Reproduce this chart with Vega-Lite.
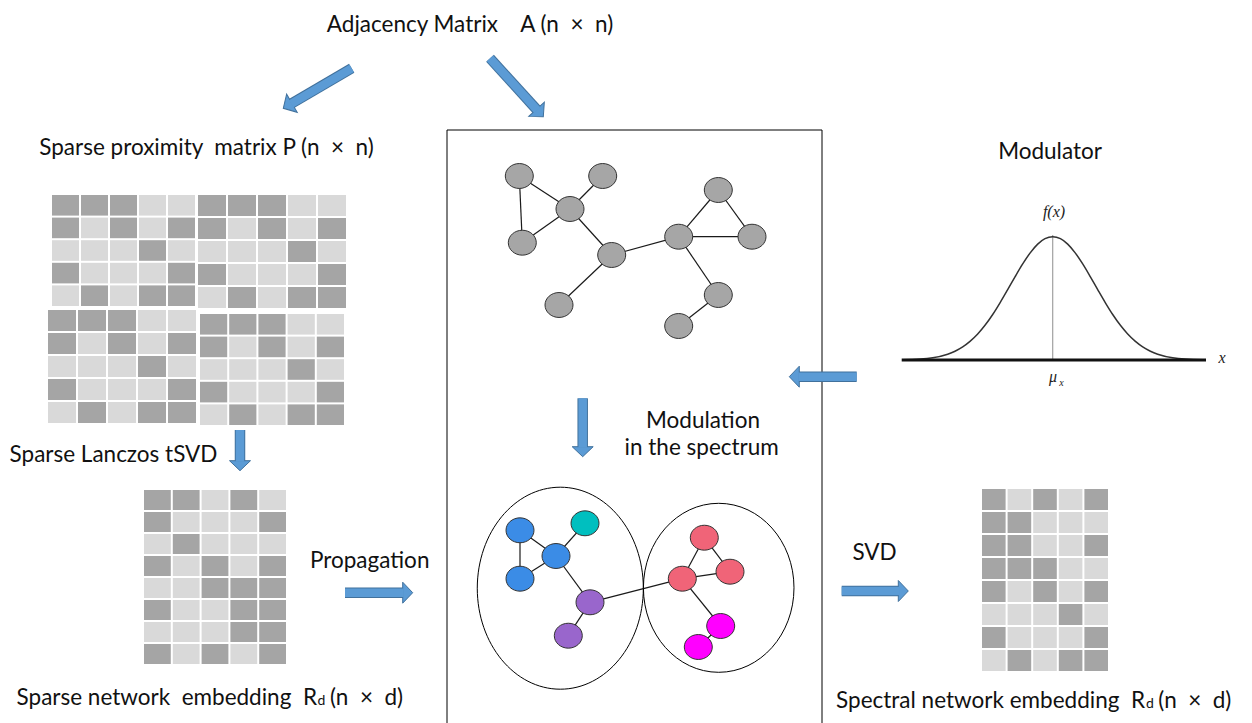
{
"$schema": "https://vega.github.io/schema/vega-lite/v6.json",
"width": 1252, "height": 723, "padding": 0,
"autosize": {"type": "none"},
"background": "white",
"config": {"view": {"stroke": null}},
"resolve": {"scale": {"fill": "independent", "color": "independent"}},
"datasets": {
"blocks": [
{"b":"P1","bx":51,"by":194,"cw":29,"ch":22.6},
{"b":"P2","bx":197,"by":194,"cw":30,"ch":23},
{"b":"P3","bx":47,"by":309,"cw":30,"ch":23},
{"b":"P4","bx":199,"by":313,"cw":29.2,"ch":22.6},
{"b":"R","bx":143,"by":489,"cw":28.8,"ch":22},
{"b":"S","bx":981,"by":488,"cw":25.6,"ch":23}
],
"cells": [
{"b":"P1","r":0,"v":[1,1,1,0,0],"c":[0,1,2,3,4]},
{"b":"P1","r":1,"v":[1,0,1,0,1],"c":[0,1,2,3,4]},
{"b":"P1","r":2,"v":[0,0,0,1,0],"c":[0,1,2,3,4]},
{"b":"P1","r":3,"v":[1,0,0,0,1],"c":[0,1,2,3,4]},
{"b":"P1","r":4,"v":[0,1,0,1,1],"c":[0,1,2,3,4]},
{"b":"P2","r":0,"v":[1,1,1,0,0],"c":[0,1,2,3,4]},
{"b":"P2","r":1,"v":[1,0,1,0,1],"c":[0,1,2,3,4]},
{"b":"P2","r":2,"v":[0,0,0,1,0],"c":[0,1,2,3,4]},
{"b":"P2","r":3,"v":[1,0,0,0,1],"c":[0,1,2,3,4]},
{"b":"P2","r":4,"v":[0,1,0,1,1],"c":[0,1,2,3,4]},
{"b":"P3","r":0,"v":[1,1,1,0,0],"c":[0,1,2,3,4]},
{"b":"P3","r":1,"v":[1,0,1,0,1],"c":[0,1,2,3,4]},
{"b":"P3","r":2,"v":[0,0,0,1,0],"c":[0,1,2,3,4]},
{"b":"P3","r":3,"v":[1,0,0,0,1],"c":[0,1,2,3,4]},
{"b":"P3","r":4,"v":[0,1,0,1,1],"c":[0,1,2,3,4]},
{"b":"P4","r":0,"v":[1,1,1,0,0],"c":[0,1,2,3,4]},
{"b":"P4","r":1,"v":[1,0,1,0,1],"c":[0,1,2,3,4]},
{"b":"P4","r":2,"v":[0,0,0,1,0],"c":[0,1,2,3,4]},
{"b":"P4","r":3,"v":[1,0,0,0,1],"c":[0,1,2,3,4]},
{"b":"P4","r":4,"v":[0,1,0,1,1],"c":[0,1,2,3,4]},
{"b":"R","r":0,"v":[1,1,0,1,0],"c":[0,1,2,3,4]},
{"b":"R","r":1,"v":[1,0,0,0,1],"c":[0,1,2,3,4]},
{"b":"R","r":2,"v":[0,1,0,0,0],"c":[0,1,2,3,4]},
{"b":"R","r":3,"v":[1,0,1,0,1],"c":[0,1,2,3,4]},
{"b":"R","r":4,"v":[0,0,1,1,1],"c":[0,1,2,3,4]},
{"b":"R","r":5,"v":[1,0,0,1,1],"c":[0,1,2,3,4]},
{"b":"R","r":6,"v":[0,0,0,1,1],"c":[0,1,2,3,4]},
{"b":"R","r":7,"v":[1,0,1,0,1],"c":[0,1,2,3,4]},
{"b":"S","r":0,"v":[1,0,1,0,1],"c":[0,1,2,3,4]},
{"b":"S","r":1,"v":[1,1,0,0,0],"c":[0,1,2,3,4]},
{"b":"S","r":2,"v":[1,1,0,0,1],"c":[0,1,2,3,4]},
{"b":"S","r":3,"v":[1,1,1,0,0],"c":[0,1,2,3,4]},
{"b":"S","r":4,"v":[1,0,1,0,1],"c":[0,1,2,3,4]},
{"b":"S","r":5,"v":[0,0,0,1,0],"c":[0,1,2,3,4]},
{"b":"S","r":6,"v":[1,0,0,0,1],"c":[0,1,2,3,4]},
{"b":"S","r":7,"v":[0,1,0,1,1],"c":[0,1,2,3,4]}
],
"nodes": [
{"id":"A","x":519.3,"y":176,"cls":"gray"},
{"id":"B","x":602.7,"y":176,"cls":"gray"},
{"id":"C","x":570,"y":209,"cls":"gray"},
{"id":"D","x":522.3,"y":242.7,"cls":"gray"},
{"id":"E","x":611.7,"y":255,"cls":"gray"},
{"id":"F","x":559,"y":305,"cls":"gray"},
{"id":"G","x":678.7,"y":236.7,"cls":"gray"},
{"id":"H","x":718.3,"y":190,"cls":"gray"},
{"id":"I","x":752,"y":236.7,"cls":"gray"},
{"id":"J","x":718.3,"y":295,"cls":"gray"},
{"id":"K","x":678.7,"y":326,"cls":"gray"},
{"id":"b1","x":520,"y":530.3,"cls":"blue"},
{"id":"t1","x":585,"y":523.3,"cls":"teal"},
{"id":"b2","x":556,"y":556,"cls":"blue"},
{"id":"b3","x":520,"y":578.7,"cls":"blue"},
{"id":"p1","x":590,"y":602.3,"cls":"purple"},
{"id":"p2","x":568.3,"y":635.7,"cls":"purple"},
{"id":"r1","x":704.3,"y":537.7,"cls":"red"},
{"id":"r2","x":682.3,"y":578.7,"cls":"red"},
{"id":"r3","x":730,"y":571.7,"cls":"red"},
{"id":"m1","x":720.7,"y":626,"cls":"magenta"},
{"id":"m2","x":698.3,"y":647,"cls":"magenta"}
],
"edges": [
{"s":"A","t":"C"},{"s":"A","t":"D"},{"s":"B","t":"C"},{"s":"C","t":"D"},{"s":"C","t":"E"},{"s":"E","t":"F"},
{"s":"E","t":"G"},{"s":"G","t":"H"},{"s":"H","t":"I"},{"s":"G","t":"I"},{"s":"G","t":"J"},{"s":"J","t":"K"},
{"s":"b1","t":"b3"},{"s":"b1","t":"b2"},{"s":"b3","t":"b2"},{"s":"t1","t":"b2"},{"s":"b2","t":"p1"},{"s":"p1","t":"p2"},
{"s":"p1","t":"r2"},{"s":"r2","t":"r1"},{"s":"r1","t":"r3"},{"s":"r2","t":"r3"},{"s":"r2","t":"m1"},{"s":"m1","t":"m2"}
],
"clusters": [{"k":"L","x":560.3,"y":588.2},{"k":"R","x":718.7,"y":587.8}],
"box": [
{"x":447,"y":130,"x2":447,"y2":723},
{"x":822,"y":130,"x2":822,"y2":723},
{"x":447,"y":130,"x2":822,"y2":130}
],
"arrows": [
{"id":"a1","x":351.7,"y":68.3,"ex":291.1,"ey":103.8,"tx":283.3,"ty":108.3},
{"id":"a2","x":490,"y":58.3,"ex":537.2,"ey":110.1,"tx":543.3,"ty":116.7},
{"id":"a3","x":240,"y":430,"ex":240,"ey":461.7,"tx":240,"ty":470.7},
{"id":"a4","x":345,"y":592.7,"ex":403.7,"ey":592.7,"tx":412.7,"ty":592.7},
{"id":"a5","x":856.7,"y":376.7,"ex":798.3,"ey":376.7,"tx":789.3,"ty":376.7},
{"id":"a6","x":582.7,"y":398.3,"ex":582.7,"ey":447.7,"tx":582.7,"ty":456.7},
{"id":"a7","x":841.7,"y":591,"ex":899.3,"ey":591,"tx":908.3,"ty":591}
],
"curve": [
{"x":902.7,"y":359.8},{"x":932.7,"y":357.7},{"x":947.7,"y":354.2},{"x":955,"y":351.2},{"x":962.7,"y":346.9},
{"x":970,"y":341.4},{"x":977.7,"y":334},{"x":985,"y":325.3},{"x":992.7,"y":314.5},{"x":1000,"y":302.8},
{"x":1007.7,"y":289.6},{"x":1015,"y":276.8},{"x":1022.7,"y":263.9},{"x":1030,"y":253.1},{"x":1037.7,"y":244.1},
{"x":1045,"y":238.7},{"x":1052.7,"y":236.7},{"x":1060.4,"y":238.7},{"x":1067.7,"y":244.1},{"x":1075.4,"y":253.1},
{"x":1082.7,"y":263.9},{"x":1090.4,"y":276.8},{"x":1097.7,"y":289.6},{"x":1105.4,"y":302.8},{"x":1112.7,"y":314.5},
{"x":1120.4,"y":325.3},{"x":1127.7,"y":334},{"x":1135.4,"y":341.4},{"x":1142.7,"y":346.9},{"x":1150.4,"y":351.2},
{"x":1157.7,"y":354.2},{"x":1172.7,"y":357.7},{"x":1202.7,"y":359.8}
],
"guides": [
{"k":"base","x":901.7,"y":360,"x2":1206,"y2":360},
{"k":"mu","x":1052.7,"y":235,"x2":1052.7,"y2":360}
],
"ctext": [
{"t":"Adjacency Matrix \u00a0 \u00a0A (n\u00a0 × \u00a0n)","x":470,"y":32},
{"t":"Sparse proximity\u00a0 matrix P (n\u00a0 × \u00a0n)","x":206.5,"y":155},
{"t":"Modulator","x":1050,"y":159},
{"t":"Sparse Lanczos tSVD","x":113.5,"y":461.7},
{"t":"Propagation","x":369.7,"y":568.3},
{"t":"Modulation","x":703,"y":428},
{"t":"in the spectrum","x":701.7,"y":455},
{"t":"SVD","x":874.5,"y":560}
],
"rtext": [
{"t":"Sparse network\u00a0 embedding\u00a0 R","x":317,"y":705},
{"t":"Spectral network embedding\u00a0 R","x":1145,"y":708.3}
],
"ltext": [
{"t":"(n\u00a0 × \u00a0d)","x":330,"y":705},
{"t":"(n\u00a0 × \u00a0d)","x":1158.3,"y":708.3}
],
"subd": [
{"t":"d","x":317.5,"y":705},
{"t":"d","x":1146,"y":708.3}
],
"serif": [
{"t":"f(x)","x":1054,"y":216.7},
{"t":"x","x":1222,"y":362.7},
{"t":"μ","x":1053,"y":382}
],
"serifsub": [
{"t":"x","x":1061.5,"y":385.5}
]
},
"layer": [
{
"data": {"name":"cells"},
"transform": [
{"flatten":["v","c"]},
{"lookup":"b","from":{"data":{"name":"blocks"},"key":"b","fields":["bx","by","cw","ch"]}},
{"calculate":"datum.bx + datum.c*datum.cw + 1","as":"x"},
{"calculate":"datum.bx + (datum.c+1)*datum.cw - 1","as":"x2"},
{"calculate":"datum.by + datum.r*datum.ch + 1","as":"y"},
{"calculate":"datum.by + (datum.r+1)*datum.ch - 1","as":"y2"}
],
"mark": {"type":"rect"},
"encoding": {
"x":{"field":"x","type":"quantitative","scale":{"domain":[0,1252],"nice":false,"zero":false},"axis":null},
"x2":{"field":"x2"},
"y":{"field":"y","type":"quantitative","scale":{"domain":[0,723],"reverse":true,"nice":false,"zero":false},"axis":null},
"y2":{"field":"y2"},
"color":{"field":"v","type":"nominal","scale":{"domain":[0,1],"range":["#d9d9d9","#a5a5a5"]},"legend":null}
}
},
{
"data": {"name":"box"},
"mark": {"type":"rule","color":"#000","strokeWidth":1},
"encoding": {
"x":{"field":"x","type":"quantitative","scale":{"domain":[0,1252],"nice":false,"zero":false},"axis":null},
"x2":{"field":"x2"},
"y":{"field":"y","type":"quantitative","scale":{"domain":[0,723],"reverse":true,"nice":false,"zero":false},"axis":null},
"y2":{"field":"y2"}
}
},
{
"data": {"name":"edges"},
"transform": [
{"lookup":"s","from":{"data":{"name":"nodes"},"key":"id","fields":["x","y"]},"as":["sx","sy"]},
{"lookup":"t","from":{"data":{"name":"nodes"},"key":"id","fields":["x","y"]},"as":["tx","ty"]}
],
"mark": {"type":"rule","color":"#1a1a1a","strokeWidth":1.2},
"encoding": {
"x":{"field":"sx","type":"quantitative","scale":{"domain":[0,1252],"nice":false,"zero":false},"axis":null},
"x2":{"field":"tx"},
"y":{"field":"sy","type":"quantitative","scale":{"domain":[0,723],"reverse":true,"nice":false,"zero":false},"axis":null},
"y2":{"field":"ty"}
}
},
{
"data": {"name":"clusters"},
"transform": [{"filter":"datum.k === 'L'"}],
"mark": {"type":"point","filled":false,"stroke":"#000","strokeWidth":1,"opacity":1,"size":40804,
"shape":"M0.822,0C0.822,0.5523 0.454,1 0,1C-0.454,1 -0.822,0.5523 -0.822,0C-0.822,-0.5523 -0.454,-1 0,-1C0.454,-1 0.822,-0.5523 0.822,0Z"},
"encoding": {
"x":{"field":"x","type":"quantitative","scale":{"domain":[0,1252],"nice":false,"zero":false},"axis":null},
"y":{"field":"y","type":"quantitative","scale":{"domain":[0,723],"reverse":true,"nice":false,"zero":false},"axis":null}
}
},
{
"data": {"name":"clusters"},
"transform": [{"filter":"datum.k === 'R'"}],
"mark": {"type":"point","filled":false,"stroke":"#000","strokeWidth":1,"opacity":1,"size":28561,
"shape":"M0.891,0C0.891,0.5523 0.4921,1 0,1C-0.4921,1 -0.891,0.5523 -0.891,0C-0.891,-0.5523 -0.4921,-1 0,-1C0.4921,-1 0.891,-0.5523 0.891,0Z"},
"encoding": {
"x":{"field":"x","type":"quantitative","scale":{"domain":[0,1252],"nice":false,"zero":false},"axis":null},
"y":{"field":"y","type":"quantitative","scale":{"domain":[0,723],"reverse":true,"nice":false,"zero":false},"axis":null}
}
},
{
"data": {"name":"nodes"},
"mark": {"type":"point","filled":true,"stroke":"#333","strokeWidth":1,"opacity":1,"size":784,
"shape":"M1,0C1,0.4915 0.5523,0.89 0,0.89C-0.5523,0.89 -1,0.4915 -1,0C-1,-0.4915 -0.5523,-0.89 0,-0.89C0.5523,-0.89 1,-0.4915 1,0Z"},
"encoding": {
"x":{"field":"x","type":"quantitative","scale":{"domain":[0,1252],"nice":false,"zero":false},"axis":null},
"y":{"field":"y","type":"quantitative","scale":{"domain":[0,723],"reverse":true,"nice":false,"zero":false},"axis":null},
"fill":{"field":"cls","type":"nominal","scale":{"domain":["gray","blue","teal","purple","red","magenta"],"range":["#a6a6a6","#3b8ce6","#00bfbf","#9966cc","#f06478","#ff00ff"]},"legend":null}
}
},
{
"data": {"name":"guides"},
"transform": [{"filter":"datum.k === 'mu'"}],
"mark": {"type":"rule","color":"#a0a0a0","strokeWidth":1.2},
"encoding": {
"x":{"field":"x","type":"quantitative","scale":{"domain":[0,1252],"nice":false,"zero":false},"axis":null},
"x2":{"field":"x2"},
"y":{"field":"y","type":"quantitative","scale":{"domain":[0,723],"reverse":true,"nice":false,"zero":false},"axis":null},
"y2":{"field":"y2"}
}
},
{
"data": {"name":"curve"},
"mark": {"type":"line","color":"#333","strokeWidth":1.5,"interpolate":"monotone"},
"encoding": {
"x":{"field":"x","type":"quantitative","scale":{"domain":[0,1252],"nice":false,"zero":false},"axis":null},
"y":{"field":"y","type":"quantitative","scale":{"domain":[0,723],"reverse":true,"nice":false,"zero":false},"axis":null}
}
},
{
"data": {"name":"guides"},
"transform": [{"filter":"datum.k === 'base'"}],
"mark": {"type":"rule","color":"#111","strokeWidth":3},
"encoding": {
"x":{"field":"x","type":"quantitative","scale":{"domain":[0,1252],"nice":false,"zero":false},"axis":null},
"x2":{"field":"x2"},
"y":{"field":"y","type":"quantitative","scale":{"domain":[0,723],"reverse":true,"nice":false,"zero":false},"axis":null},
"y2":{"field":"y2"}
}
},
{
"data": {"name":"arrows"},
"mark": {"type":"rule","color":"#41719c","strokeWidth":10.5,"strokeCap":"butt"},
"encoding": {
"x":{"field":"x","type":"quantitative","scale":{"domain":[0,1252],"nice":false,"zero":false},"axis":null},
"x2":{"field":"ex"},
"y":{"field":"y","type":"quantitative","scale":{"domain":[0,723],"reverse":true,"nice":false,"zero":false},"axis":null},
"y2":{"field":"ey"}
}
},
{
"data": {"name":"arrows"},
"transform": [{"calculate":"atan2(datum.tx - datum.x, datum.y - datum.ty) * 180 / PI","as":"ang"}],
"mark": {"type":"point","filled":true,"fill":"#5b9bd5","stroke":"#41719c","strokeWidth":1,"opacity":1,"size":400,
"shape":"M0,0L1.05,1L-1.05,1Z"},
"encoding": {
"x":{"field":"tx","type":"quantitative","scale":{"domain":[0,1252],"nice":false,"zero":false},"axis":null},
"y":{"field":"ty","type":"quantitative","scale":{"domain":[0,723],"reverse":true,"nice":false,"zero":false},"axis":null},
"angle":{"field":"ang","type":"quantitative","scale":null}
}
},
{
"data": {"name":"arrows"},
"mark": {"type":"rule","color":"#5b9bd5","strokeWidth":8.5,"strokeCap":"butt"},
"encoding": {
"x":{"field":"x","type":"quantitative","scale":{"domain":[0,1252],"nice":false,"zero":false},"axis":null},
"x2":{"field":"ex"},
"y":{"field":"y","type":"quantitative","scale":{"domain":[0,723],"reverse":true,"nice":false,"zero":false},"axis":null},
"y2":{"field":"ey"}
}
},
{
"data": {"name":"ctext"},
"mark": {"type":"text","font":"Lato","fontSize":22.5,"color":"#111","align":"center","baseline":"alphabetic"},
"encoding": {
"x":{"field":"x","type":"quantitative","scale":{"domain":[0,1252],"nice":false,"zero":false},"axis":null},
"y":{"field":"y","type":"quantitative","scale":{"domain":[0,723],"reverse":true,"nice":false,"zero":false},"axis":null},
"text":{"field":"t"}
}
},
{
"data": {"name":"rtext"},
"mark": {"type":"text","font":"Lato","fontSize":22.5,"color":"#111","align":"right","baseline":"alphabetic"},
"encoding": {
"x":{"field":"x","type":"quantitative","scale":{"domain":[0,1252],"nice":false,"zero":false},"axis":null},
"y":{"field":"y","type":"quantitative","scale":{"domain":[0,723],"reverse":true,"nice":false,"zero":false},"axis":null},
"text":{"field":"t"}
}
},
{
"data": {"name":"ltext"},
"mark": {"type":"text","font":"Lato","fontSize":22.5,"color":"#111","align":"left","baseline":"alphabetic"},
"encoding": {
"x":{"field":"x","type":"quantitative","scale":{"domain":[0,1252],"nice":false,"zero":false},"axis":null},
"y":{"field":"y","type":"quantitative","scale":{"domain":[0,723],"reverse":true,"nice":false,"zero":false},"axis":null},
"text":{"field":"t"}
}
},
{
"data": {"name":"subd"},
"mark": {"type":"text","font":"Lato","fontSize":14,"color":"#111","align":"left","baseline":"alphabetic"},
"encoding": {
"x":{"field":"x","type":"quantitative","scale":{"domain":[0,1252],"nice":false,"zero":false},"axis":null},
"y":{"field":"y","type":"quantitative","scale":{"domain":[0,723],"reverse":true,"nice":false,"zero":false},"axis":null},
"text":{"field":"t"}
}
},
{
"data": {"name":"serif"},
"mark": {"type":"text","font":"Liberation Serif","fontStyle":"italic","fontSize":16,"color":"#222","align":"center","baseline":"alphabetic"},
"encoding": {
"x":{"field":"x","type":"quantitative","scale":{"domain":[0,1252],"nice":false,"zero":false},"axis":null},
"y":{"field":"y","type":"quantitative","scale":{"domain":[0,723],"reverse":true,"nice":false,"zero":false},"axis":null},
"text":{"field":"t"}
}
},
{
"data": {"name":"serifsub"},
"mark": {"type":"text","font":"Liberation Serif","fontStyle":"italic","fontSize":10,"color":"#222","align":"center","baseline":"alphabetic"},
"encoding": {
"x":{"field":"x","type":"quantitative","scale":{"domain":[0,1252],"nice":false,"zero":false},"axis":null},
"y":{"field":"y","type":"quantitative","scale":{"domain":[0,723],"reverse":true,"nice":false,"zero":false},"axis":null},
"text":{"field":"t"}
}
}
]
}
